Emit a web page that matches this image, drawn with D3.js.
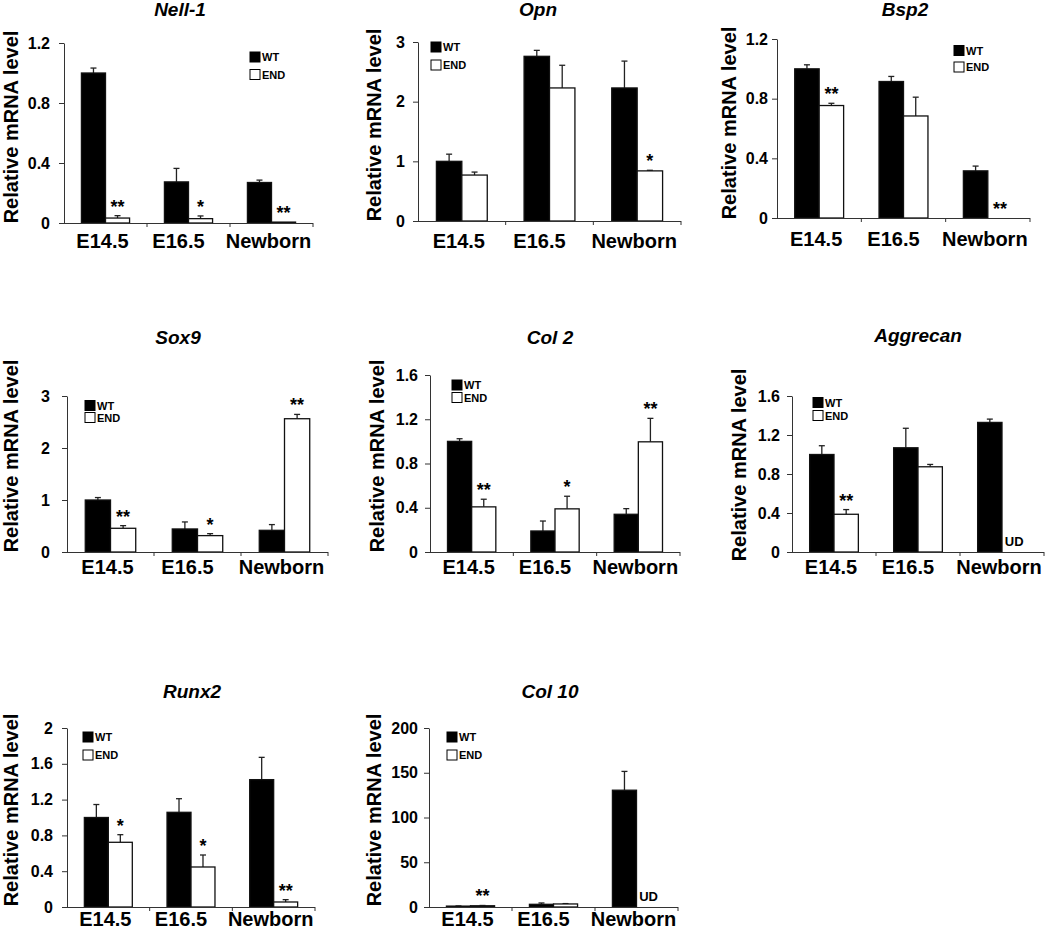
<!DOCTYPE html>
<html><head><meta charset="utf-8">
<script src="https://cdn.jsdelivr.net/npm/d3@7"></script>
<style>
body{margin:0;background:#fff}
svg{display:block}
text{font-family:"Liberation Sans",Arial,Helvetica,sans-serif;font-weight:bold;fill:#000}
</style>
</head><body>
<svg id="chart" width="1050" height="930"></svg>
<script>
// ---------- data ----------
const categories = ["E14.5", "E16.5", "Newborn"];
const seriesNames = ["WT", "END"];
const yAxisTitle = "Relative mRNA level";
const undetectedLabel = "UD";
const genes = ["Nell-1", "Opn", "Bsp2", "Sox9", "Col 2", "Aggrecan", "Runx2", "Col 10"];

const nell1WT = [1.0, 0.274, 0.27];
const nell1WTErr = [0.033, 0.09, 0.016];
const nell1END = [0.033, 0.029, 0.006];
const nell1ENDErr = [0.016, 0.018, 0];
const nell1Sig = ["**", "*", "**"];
const nell1Ticks = [0, 0.4, 0.8, 1.2];

const opnWT = [1.0, 2.76, 2.23];
const opnWTErr = [0.12, 0.10, 0.45];
const opnEND = [0.77, 2.23, 0.84];
const opnENDErr = [0.05, 0.38, 0.01];
const opnSig = ["", "", "*"];
const opnTicks = [0, 1, 2, 3];

const bsp2WT = [1.0, 0.915, 0.316];
const bsp2WTErr = [0.027, 0.034, 0.032];
const bsp2END = [0.754, 0.684, 0];
const bsp2ENDErr = [0.015, 0.126, 0];
const bsp2Sig = ["**", "", "**"];
const bsp2Ticks = [0, 0.4, 0.8, 1.2];

const sox9WT = [1.0, 0.443, 0.417];
const sox9WTErr = [0.047, 0.135, 0.11];
const sox9END = [0.456, 0.315, 2.563];
const sox9ENDErr = [0.051, 0.038, 0.083];
const sox9Sig = ["**", "*", "**"];
const sox9Ticks = [0, 1, 2, 3];

const col2WT = [1.0, 0.19, 0.341];
const col2WTErr = [0.024, 0.09, 0.051];
const col2END = [0.408, 0.39, 0.996];
const col2ENDErr = [0.069, 0.114, 0.212];
const col2Sig = ["**", "*", "**"];
const col2Ticks = [0, 0.4, 0.8, 1.2, 1.6];

const aggrecanWT = [1.0, 1.069, 1.329];
const aggrecanWTErr = [0.09, 0.2, 0.034];
const aggrecanEND = [0.387, 0.874, null];
const aggrecanENDErr = [0.048, 0.024, 0];
const aggrecanSig = ["**", "", ""];
const aggrecanTicks = [0, 0.4, 0.8, 1.2, 1.6];

const runx2WT = [1.0, 1.058, 1.423];
const runx2WTErr = [0.145, 0.152, 0.249];
const runx2END = [0.723, 0.447, 0.056];
const runx2ENDErr = [0.085, 0.134, 0.026];
const runx2Sig = ["*", "*", "**"];
const runx2Ticks = [0, 0.4, 0.8, 1.2, 1.6, 2];

const col10WT = [1.0, 3.0, 130.5];
const col10WTErr = [0.2, 1.5, 21];
const col10END = [1.4, 3.4, null];
const col10ENDErr = [0.3, 0.4, 0];
const col10Sig = ["**", "", ""];
const col10Ticks = [0, 50, 100, 150, 200];

const panelData = [
  {wt: nell1WT, wtErr: nell1WTErr, end: nell1END, endErr: nell1ENDErr, sig: nell1Sig, ticks: nell1Ticks},
  {wt: opnWT, wtErr: opnWTErr, end: opnEND, endErr: opnENDErr, sig: opnSig, ticks: opnTicks},
  {wt: bsp2WT, wtErr: bsp2WTErr, end: bsp2END, endErr: bsp2ENDErr, sig: bsp2Sig, ticks: bsp2Ticks},
  {wt: sox9WT, wtErr: sox9WTErr, end: sox9END, endErr: sox9ENDErr, sig: sox9Sig, ticks: sox9Ticks},
  {wt: col2WT, wtErr: col2WTErr, end: col2END, endErr: col2ENDErr, sig: col2Sig, ticks: col2Ticks},
  {wt: aggrecanWT, wtErr: aggrecanWTErr, end: aggrecanEND, endErr: aggrecanENDErr, sig: aggrecanSig, ticks: aggrecanTicks},
  {wt: runx2WT, wtErr: runx2WTErr, end: runx2END, endErr: runx2ENDErr, sig: runx2Sig, ticks: runx2Ticks},
  {wt: col10WT, wtErr: col10WTErr, end: col10END, endErr: col10ENDErr, sig: col10Sig, ticks: col10Ticks}
];

// ---------- layout (positions only) ----------
const layouts = [
  {x0:64, x1:313, yZero:223, yTop:43, titleX:180, titleY:16, legX:250, legY:[57,74.5], yTitleX:10.5, yTitleY:127, tickGap:14, labelY:248},
  {x0:418, x1:681, yZero:221, yTop:42, titleX:538, titleY:16, legX:431, legY:[47,65], yTitleX:374, yTitleY:125, tickGap:13, labelY:248},
  {x0:777, x1:1030, yZero:218, yTop:39, titleX:905, titleY:16, legX:954, legY:[50.5,67], yTitleX:729, yTitleY:123, tickGap:9, labelY:246},
  {x0:67, x1:328, yZero:552, yTop:396, titleX:178, titleY:344, legX:85, legY:[405.5,417.5], yTitleX:11, yTitleY:456, tickGap:17, labelY:574},
  {x0:430, x1:680, yZero:552, yTop:375, titleX:550, titleY:344, legX:452, legY:[385,397.5], yTitleX:377, yTitleY:456, tickGap:12, labelY:574},
  {x0:792, x1:1044, yZero:552, yTop:396, titleX:918, titleY:342, legX:813, legY:[402.5,415.5], yTitleX:739, yTitleY:465, tickGap:12, labelY:574},
  {x0:67, x1:315, yZero:907, yTop:728, titleX:192, titleY:698, legX:83, legY:[737,755], yTitleX:10.5, yTitleY:810, tickGap:14, labelY:926},
  {x0:429, x1:678, yZero:907, yTop:728, titleX:550, titleY:698, legX:447, legY:[737,755], yTitleX:374, yTitleY:810, tickGap:11, labelY:926}
];
const labelDx = [-3, -10, -3];
const axisColor = "#333";

const svg = d3.select("#chart");
svg.append("rect").attr("width", 1050).attr("height", 930).attr("fill", "#fff");

panelData.forEach((p, i) => {
  const L = layouts[i];
  const g = svg.append("g");
  const yMax = p.ticks[p.ticks.length - 1];
  const y = d3.scaleLinear().domain([0, yMax]).range([L.yZero, L.yTop]);
  const x = d3.scaleBand().domain(categories).range([L.x0, L.x1]).paddingInner(0.42).paddingOuter(0.21);
  const xs = d3.scaleBand().domain(seriesNames).range([0, x.bandwidth()]);

  // title
  g.append("text").attr("x", L.titleX).attr("y", L.titleY).attr("text-anchor", "middle")
    .style("font-size", "19px").style("font-style", "italic").text(genes[i]);

  // y axis title
  g.append("text").attr("transform", `translate(${L.yTitleX},${L.yTitleY}) rotate(-90)`)
    .attr("text-anchor", "middle").attr("dominant-baseline", "central")
    .style("font-size", "20px").text(yAxisTitle);

  // bars
  const rows = [];
  categories.forEach((c, k) => {
    rows.push({cat: c, s: "WT", v: p.wt[k], e: p.wtErr[k], sig: ""});
    rows.push({cat: c, s: "END", v: p.end[k], e: p.endErr[k], sig: p.sig[k]});
  });
  const cx = d => x(d.cat) + xs(d.s) + xs.bandwidth() / 2;

  // error bars
  rows.filter(d => d.v !== null && d.e > 0).forEach(d => {
    const xc = cx(d);
    g.append("line").attr("x1", xc).attr("x2", xc).attr("y1", y(d.v)).attr("y2", y(d.v + d.e))
      .attr("stroke", "#222").attr("stroke-width", 1.3);
    g.append("line").attr("x1", xc - 3).attr("x2", xc + 3).attr("y1", y(d.v + d.e)).attr("y2", y(d.v + d.e))
      .attr("stroke", "#222").attr("stroke-width", 1.3);
  });

  g.selectAll("rect.bar").data(rows.filter(d => d.v !== null)).enter().append("rect")
    .attr("class", "bar")
    .attr("x", d => x(d.cat) + xs(d.s))
    .attr("width", xs.bandwidth())
    .attr("y", d => y(d.v))
    .attr("height", d => Math.max(0, y(0) - y(d.v)))
    .attr("fill", d => d.s === "WT" ? "#000" : "#fff")
    .attr("stroke", "#111").attr("stroke-width", 1.3);

  // significance stars
  rows.filter(d => d.sig).forEach(d => {
    const top = (d.v === null ? 0 : d.v + d.e);
    g.append("text").attr("x", cx(d)).attr("y", y(top) - 3).attr("text-anchor", "middle")
      .style("font-size", "18px").text(d.sig);
  });
  // undetected labels
  rows.filter(d => d.v === null).forEach(d => {
    g.append("text").attr("x", cx(d)).attr("y", L.yZero - 6).attr("text-anchor", "middle")
      .style("font-size", "13px").text(undetectedLabel);
  });

  // y axis
  const ya = g.append("g").attr("transform", `translate(${L.x0},0)`)
    .call(d3.axisLeft(y).tickValues(p.ticks).tickSize(5).tickSizeOuter(0)
      .tickPadding(L.tickGap - 5).tickFormat(d => String(d)));
  ya.selectAll("path,line").attr("stroke", axisColor).attr("stroke-width", 1);
  ya.selectAll("text").style("font-size", "16px").style("font-family", '"Liberation Sans",Arial,sans-serif').style("font-weight", "bold").attr("fill", "#000");

  // x axis line with boundary ticks
  g.append("line").attr("x1", L.x0).attr("x2", L.x1).attr("y1", L.yZero + 0.5).attr("y2", L.yZero + 0.5)
    .attr("stroke", axisColor).attr("stroke-width", 1);
  d3.range(1, categories.length + 1).forEach(k => {
    const bx = L.x0 + k * x.step();
    g.append("line").attr("x1", bx).attr("x2", bx).attr("y1", L.yZero).attr("y2", L.yZero + 4)
      .attr("stroke", axisColor).attr("stroke-width", 1);
  });

  // category labels
  categories.forEach((c, k) => {
    g.append("text").attr("x", x(c) + x.bandwidth() / 2 + labelDx[k]).attr("y", L.labelY)
      .attr("text-anchor", "middle").style("font-size", "20px").text(c);
  });

  // legend
  seriesNames.forEach((s, k) => {
    g.append("rect").attr("x", L.legX).attr("y", L.legY[k] - 5).attr("width", 10).attr("height", 10)
      .attr("fill", s === "WT" ? "#000" : "#fff").attr("stroke", "#000").attr("stroke-width", 1);
    g.append("text").attr("x", L.legX + 12).attr("y", L.legY[k]).attr("dominant-baseline", "central")
      .style("font-size", "11px").text(s);
  });
});
</script>
</body></html>
